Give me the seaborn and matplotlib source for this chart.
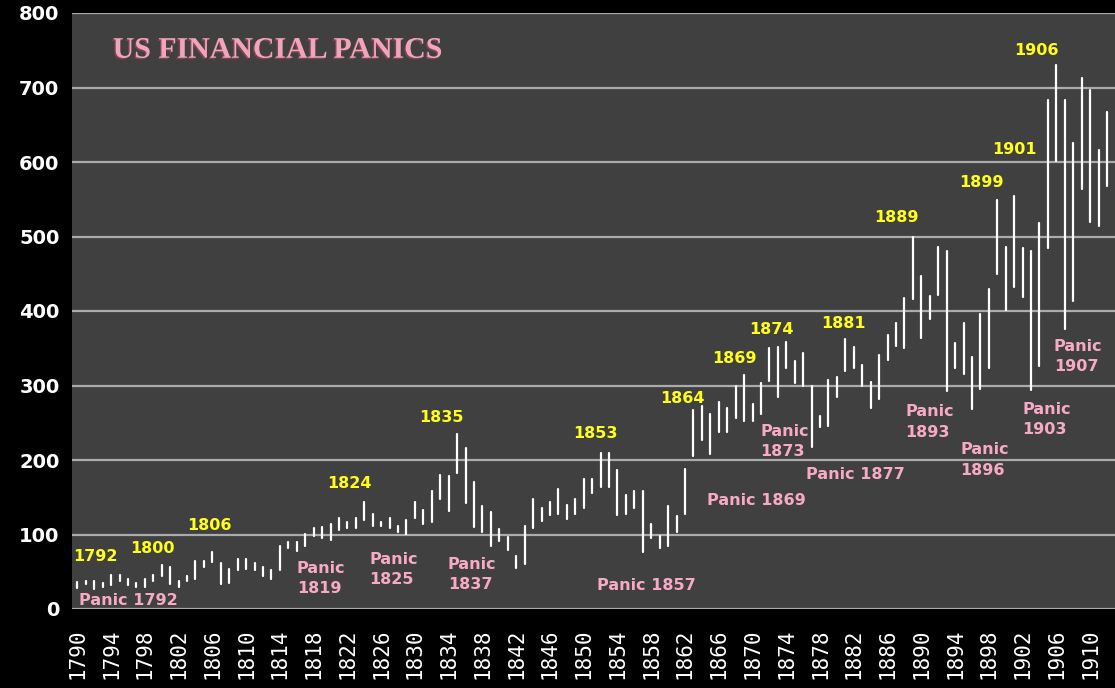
import numpy as np
import pandas as pd
import matplotlib
matplotlib.use("Agg")
import matplotlib.pyplot as plt
import matplotlib.patheffects as pe
import seaborn as sns

# yearly high / low of the index
years = list(range(1790, 1913))
highs = [36, 38, 37, 35, 46, 46, 40, 35, 40, 46,
         59, 56, 38, 44, 65, 65, 76, 62, 54, 67,
         67, 62, 56, 52, 84, 90, 90, 101, 109, 110,
         114, 122, 117, 122, 144, 128, 117, 122, 111, 120,
         144, 133, 158, 180, 178, 235, 216, 170, 138, 130,
         107, 96, 71, 111, 147, 136, 144, 161, 139, 147,
         174, 174, 210, 210, 186, 153, 158, 158, 114, 98,
         138, 125, 188, 267, 272, 262, 278, 270, 299, 314,
         275, 303, 350, 352, 358, 333, 343, 299, 259, 308,
         311, 363, 352, 327, 305, 341, 368, 384, 418, 499,
         447, 420, 486, 480, 357, 384, 338, 396, 429, 549,
         486, 554, 484, 480, 518, 683, 730, 683, 625, 713,
         696, 616, 667]
lows = [28, 33, 27, 29, 32, 38, 32, 29, 29, 38,
        44, 33, 29, 38, 40, 57, 63, 33, 35, 52,
        54, 52, 44, 40, 52, 82, 78, 84, 98, 95,
        93, 106, 109, 109, 120, 112, 112, 109, 104, 101,
        122, 114, 117, 147, 131, 183, 142, 110, 104, 84,
        91, 79, 55, 60, 109, 118, 126, 128, 121, 128,
        136, 156, 164, 164, 126, 128, 136, 76, 95, 82,
        84, 103, 128, 205, 227, 208, 238, 238, 257, 252,
        253, 262, 306, 285, 323, 303, 299, 218, 244, 246,
        284, 320, 323, 300, 270, 282, 334, 353, 351, 416,
        364, 389, 422, 293, 323, 315, 268, 295, 323, 449,
        402, 432, 419, 294, 326, 484, 602, 376, 414, 564,
        520, 514, 568]

peak_labels = ["1792", "1800", "1806", "1824", "1835", "1853", "1864",
               "1869", "1874", "1881", "1889", "1899", "1901", "1906"]
peak_pos = [(1792.1, 70), (1798.9, 81), (1805.6, 112), (1822.2, 168),
            (1833.1, 257), (1851.4, 235), (1861.7, 283), (1867.9, 336),
            (1872.2, 375), (1880.8, 383), (1887.0, 526), (1897.1, 572),
            (1901.0, 617), (1903.7, 750)]

panic_labels = ["Panic 1792", "Panic\n1819", "Panic\n1825", "Panic\n1837",
                "Panic 1857", "Panic 1869", "Panic\n1873", "Panic 1877",
                "Panic\n1893", "Panic\n1896", "Panic\n1903", "Panic\n1907"]
panic_pos = [(1790.2, 11), (1816.0, 41), (1824.6, 53), (1833.9, 46),
             (1851.6, 32), (1864.6, 145), (1870.9, 225), (1876.3, 181),
             (1888.1, 251), (1894.6, 200), (1902.0, 254), (1905.7, 339)]

YELLOW = "#ffff1a"
PINK = "#f7aac6"

df = pd.DataFrame({
    "year": years + years,
    "value": highs + lows,
})

sns.set_style("dark")
plt.rcParams["font.family"] = ["DejaVu Sans"]

fig = plt.figure(figsize=(11.15, 6.88), dpi=100, facecolor="black")
ax = fig.add_axes([72 / 1115, 1 - 609 / 688, 1 - 72 / 1115, (609 - 13) / 688])
ax.set_facecolor("#404040")

sns.lineplot(data=df, x="year", y="value", units="year", estimator=None,
             color="white", linewidth=1.6, ax=ax, legend=False)

ax.set_xlim(1789.37, 1912.95)
ax.set_ylim(0, 800)
ax.set_yticks(np.arange(0, 801, 100))
ax.set_xticks(np.arange(1790, 1911, 4))
ax.grid(axis="y", color="#ababab", linewidth=1.6)
ax.grid(axis="x", visible=False)
ax.set_axisbelow(True)
for s in ax.spines.values():
    s.set_visible(False)

ax.tick_params(axis="y", length=0, pad=9, colors="white", labelsize=14)
ax.tick_params(axis="x", length=0, pad=14, colors="white", labelrotation=90)
for t in ax.get_yticklabels():
    t.set_fontweight("bold")
for t in ax.get_xticklabels():
    t.set_fontfamily("DejaVu Sans Mono")
    t.set_fontsize(15)
ax.set_xlabel("")
ax.set_ylabel("")

for txt, (x, y) in zip(peak_labels, peak_pos):
    ax.text(x, y, txt, color=YELLOW, fontsize=11.5, fontweight="bold",
            ha="center", va="center")

for txt, (x, y) in zip(panic_labels, panic_pos):
    ax.text(x, y, txt, color=PINK, fontsize=11.5, fontweight="bold",
            ha="left", va="center", linespacing=1.45)

ax.text(1794.2, 750, "US FINANCIAL PANICS", color="#f4a4ba", fontsize=21.5,
        fontweight="bold", family="Liberation Serif", ha="left", va="center",
        path_effects=[pe.withSimplePatchShadow(offset=(-1, -1), shadow_rgbFace="#7a4656", alpha=1)])

fig.savefig("out.png", dpi=100, facecolor="black")
